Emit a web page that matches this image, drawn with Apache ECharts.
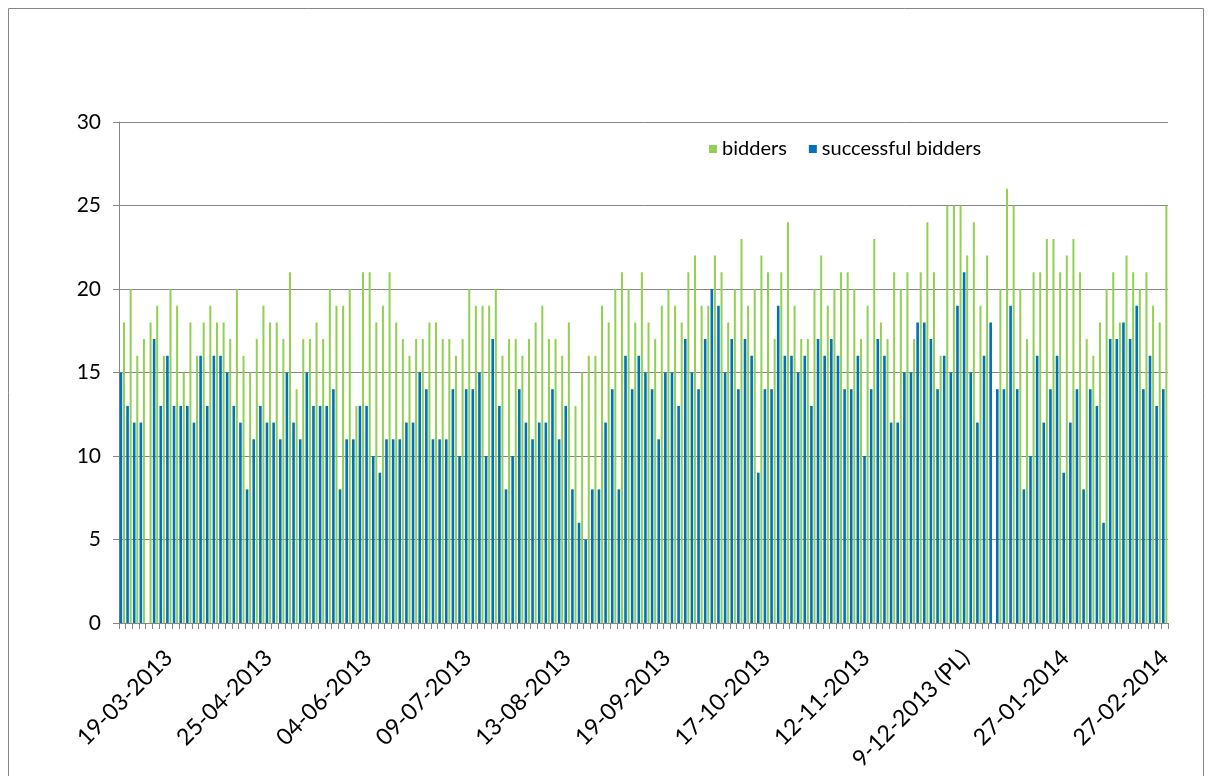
<!DOCTYPE html>
<html>
<head>
<meta charset="utf-8">
<script src="https://cdn.jsdelivr.net/npm/echarts@6/dist/echarts.min.js"></script>
<style>
html,body{margin:0;padding:0;background:#fff;}
#chart{width:1208px;height:776px;}
</style>
</head>
<body>
<div id="chart"></div>
<script>
// Number of bidders per auction (green)
const bidders = [
  18,20,16,17,18,19,16,20,19,15,18,16,18,19,18,18,
  17,20,16,15,17,19,18,18,17,21,14,17,17,18,17,20,
  19,19,20,13,21,21,18,19,21,18,17,16,17,17,18,18,
  17,17,16,17,20,19,19,19,20,16,17,17,16,17,18,19,
  17,17,16,18,13,15,16,16,19,18,20,21,20,18,21,18,
  17,19,20,19,18,21,22,19,19,22,21,18,20,23,19,20,
  22,21,17,21,24,19,17,17,20,22,19,20,21,21,20,17,
  19,23,18,17,21,20,21,17,21,24,21,16,25,25,25,22,
  24,19,22,0,20,26,25,20,17,21,21,23,23,21,22,23,
  21,17,16,18,20,21,18,22,21,20,21,19,18,25
];
// Number of successful bidders per auction (blue)
const successful = [
  15,13,12,12,0,17,13,16,13,13,13,12,16,13,16,16,
  15,13,12,8,11,13,12,12,11,15,12,11,15,13,13,13,
  14,8,11,11,13,13,10,9,11,11,11,12,12,15,14,11,
  11,11,14,10,14,14,15,10,17,13,8,10,14,12,11,12,
  12,14,11,13,8,6,5,8,8,12,14,8,16,14,16,15,
  14,11,15,15,13,17,15,14,17,20,19,15,17,14,17,16,
  9,14,14,19,16,16,15,16,13,17,16,17,16,14,14,16,
  10,14,17,16,12,12,15,15,18,18,17,14,16,15,19,21,
  15,12,16,18,14,14,19,14,8,10,16,12,14,16,9,12,
  14,8,14,13,6,17,17,18,17,19,14,16,13,14
];
// Visible date labels on the category axis
const tickLabels = ['19-03-2013','25-04-2013','04-06-2013','09-07-2013','13-08-2013',
  '19-09-2013','17-10-2013','12-11-2013','9-12-2013 (PL)','27-01-2014','27-02-2014'];
const firstLabelIndex = 7;
const labelStep = 15;
const yTicks = [0,5,10,15,20,25,30];

const categories = bidders.map(function (_, i) {
  const k = (i - firstLabelIndex) / labelStep;
  return (Number.isInteger(k) && k >= 0 && k < tickLabels.length) ? tickLabels[k] : ('auction ' + (i + 1));
});

const FONT = 'Lato';
const chart = echarts.init(document.getElementById('chart'), null, {renderer: 'canvas'});
chart.setOption({
  animation: false,
  backgroundColor: '#ffffff',
  graphic: [{
    type: 'rect',
    shape: {x: 8.5, y: 8.5, width: 1195, height: 820},
    style: {fill: 'none', stroke: '#868686', lineWidth: 1},
    silent: true
  }],
  legend: {
    data: ['bidders', 'successful bidders'],
    left: 704, top: 134,
    icon: 'rect', itemWidth: 8, itemHeight: 8, itemGap: 22,
    textStyle: {fontFamily: FONT, fontSize: 20, color: '#000'}
  },
  grid: {left: 119, right: 40, top: 122, bottom: 153, containLabel: false},
  xAxis: {
    type: 'category',
    data: categories,
    axisLine: {show: true, lineStyle: {color: '#868686', width: 1}},
    axisTick: {show: true, interval: 0, alignWithLabel: false, length: 6, lineStyle: {color: '#868686'}},
    axisLabel: {
      interval: function (i, v) { return tickLabels.indexOf(v) >= 0; },
      rotate: 45, margin: 31,
      fontFamily: FONT, fontSize: 23, color: '#000'
    },
    splitLine: {show: false}
  },
  yAxis: {
    type: 'value',
    min: yTicks[0], max: yTicks[yTicks.length - 1], interval: 5,
    axisLine: {show: true, lineStyle: {color: '#868686', width: 1}},
    axisTick: {show: true, length: 6, lineStyle: {color: '#868686'}},
    axisLabel: {fontFamily: FONT, fontSize: 21, color: '#000', margin: 18},
    splitLine: {show: true, lineStyle: {color: '#868686', width: 1}}
  },
  series: [
    {
      name: 'successful bidders', type: 'bar', data: successful,
      barWidth: 2.6, barGap: '30%',
      itemStyle: {color: '#0070C0'}
    },
    {
      name: 'bidders', type: 'bar', data: bidders,
      barWidth: 2, barGap: '30%',
      itemStyle: {color: '#92D050'}
    }
  ]
});
</script>
</body>
</html>
